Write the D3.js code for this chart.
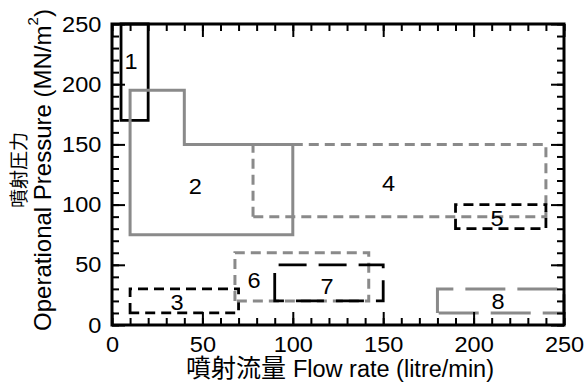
<!DOCTYPE html>
<html>
<head>
<meta charset="utf-8">
<script src="https://cdn.jsdelivr.net/npm/d3@7"></script>
<style>
  html, body { margin: 0; padding: 0; background: #fff; }
  svg text { font-family: "Liberation Sans", "Noto Sans CJK JP", Arial, sans-serif; fill: #000; }
</style>
</head>
<body>
<svg id="chart" width="585" height="383"></svg>
<script>
// Operating windows: flow rate (litre/min) vs operational pressure (MN/m^2)
const regionIds   = ["1", "2", "3", "4", "5", "6", "7", "8"];
// outline vertices of each region, [flow, pressure]
const regionShapes = [
  [[5, 170], [5, 250], [20, 250], [20, 170]],
  [[10, 75], [10, 195], [40, 195], [40, 150], [100, 150], [100, 75]],
  [[10, 10], [10, 30], [70, 30], [70, 10]],
  [[78, 90], [78, 150], [240, 150], [240, 90]],
  [[190, 80], [190, 100], [240, 100], [240, 80]],
  [[68, 20], [68, 60], [142, 60], [142, 20]],
  [[90, 20], [90, 50], [150, 50], [150, 20]],
  [[180, 10], [180, 30], [250, 30], [250, 10]]
];
// where each region number is written, [flow, pressure]
const regionLabelAt = [[10.5, 219], [46, 115], [36, 19], [153, 118], [213, 89], [78.5, 37], [119, 32], [213.5, 20]];
const regionColour  = ["black", "grey", "black", "grey", "black", "grey", "black", "grey"];
const regionDash    = ["solid", "solid", "short", "short", "short", "short", "long", "longer"];

const xTicks = [0, 50, 100, 150, 200, 250];
const yTicks = [0, 50, 100, 150, 200, 250];
const xDomain = [0, 250];
const yDomain = [0, 250];

const xTitleCJK = "噴射流量";
const xTitleLatin = "Flow rate (litre/min)";
const yTitleTop = "噴射圧力";
const yTitleMain = "Operational Pressure (MN/m";

const FONT = "Liberation Sans, Noto Sans CJK JP, Arial, sans-serif";
const WIDEN = 1.07;   // numerals are drawn slightly wide
const svg = d3.select("#chart");
const margin = { left: 112, right: 21, top: 24, bottom: 58 };
const W = 585, H = 383;
const x = d3.scaleLinear().domain(xDomain).range([margin.left, W - margin.right]);
const y = d3.scaleLinear().domain(yDomain).range([H - margin.bottom, margin.top]);

const colourMap = { black: "#000", grey: "#8a8a8a" };
const dashMap = { solid: null, short: "10,6", long: "28,12", longer: "40,12" };
const widthMap = { black: 2.8, grey: 3 };

// region outlines
const line = d3.line().x(d => x(d[0])).y(d => y(d[1]));
const g = svg.append("g");
regionShapes.forEach((pts, i) => {
  g.append("path")
    .attr("d", line(pts) + "Z")
    .attr("fill", "none")
    .attr("stroke", colourMap[regionColour[i]])
    .attr("stroke-width", widthMap[regionColour[i]])
    .attr("stroke-dasharray", dashMap[regionDash[i]])
    .attr("stroke-linejoin", "miter")
    .attr("stroke-linecap", "butt");
});
regionIds.forEach((id, i) => {
  g.append("text")
    .attr("transform", `translate(${x(regionLabelAt[i][0])},${y(regionLabelAt[i][1])}) scale(${WIDEN},1)`)
    .attr("text-anchor", "middle")
    .attr("dominant-baseline", "central")
    .attr("font-size", 22)
    .text(id);
});

// axes with inward ticks on all four sides
const minorX = d3.range(0, 251, 10);
const minorY = d3.range(0, 251, 10);
const tickStyle = sel => {
  sel.select(".domain").remove();
  sel.selectAll(".tick line").attr("stroke", "#000").attr("stroke-width", 2);
};
const fmt = d3.format("d");
const labelStyle = s => s.selectAll("text")
  .attr("font-size", 22).attr("font-family", FONT).attr("fill", "#000")
  .attr("transform", `scale(${WIDEN},1)`);

svg.append("g").attr("transform", `translate(0,${y(0)})`)
  .call(d3.axisBottom(x).tickValues(minorX).tickSize(-7).tickFormat(""))
  .call(tickStyle);
svg.append("g").attr("transform", `translate(0,${y(0)})`)
  .call(d3.axisBottom(x).tickValues(xTicks).tickSize(-13).tickPadding(11).tickFormat(fmt))
  .call(tickStyle)
  .call(labelStyle);

svg.append("g").attr("transform", `translate(0,${y(250)})`)
  .call(d3.axisTop(x).tickValues(minorX).tickSize(-7).tickFormat(""))
  .call(tickStyle);
svg.append("g").attr("transform", `translate(0,${y(250)})`)
  .call(d3.axisTop(x).tickValues(xTicks).tickSize(-13).tickFormat(""))
  .call(tickStyle);

svg.append("g").attr("transform", `translate(${x(0)},0)`)
  .call(d3.axisLeft(y).tickValues(minorY).tickSize(-7).tickFormat(""))
  .call(tickStyle);
svg.append("g").attr("transform", `translate(${x(0)},0)`)
  .call(d3.axisLeft(y).tickValues(yTicks).tickSize(-13).tickPadding(10).tickFormat(fmt))
  .call(tickStyle)
  .call(labelStyle);

svg.append("g").attr("transform", `translate(${x(250)},0)`)
  .call(d3.axisRight(y).tickValues(minorY).tickSize(-7).tickFormat(""))
  .call(tickStyle);
svg.append("g").attr("transform", `translate(${x(250)},0)`)
  .call(d3.axisRight(y).tickValues(yTicks).tickSize(-13).tickFormat(""))
  .call(tickStyle);

// frame
svg.append("rect")
  .attr("x", x(0)).attr("y", y(250))
  .attr("width", x(250) - x(0)).attr("height", y(0) - y(250))
  .attr("fill", "none").attr("stroke", "#000").attr("stroke-width", 3);

// axis titles
const xt = svg.append("text")
  .attr("transform", `translate(${(x(0) + x(250)) / 2 + 2},377)`)
  .attr("text-anchor", "middle");
xt.append("tspan").attr("font-size", 25).text(xTitleCJK + " ");
xt.append("tspan").attr("font-size", 23.5).text(xTitleLatin);

const yMid = 170;
svg.append("text")
  .attr("transform", `translate(19,${yMid}) rotate(-90)`)
  .attr("text-anchor", "middle").attr("dominant-baseline", "central")
  .attr("font-size", 19)
  .text(yTitleTop);
const yt = svg.append("text")
  .attr("transform", `translate(42,${yMid}) rotate(-90)`)
  .attr("text-anchor", "middle").attr("dominant-baseline", "central")
  .attr("font-size", 24);
yt.append("tspan").text(yTitleMain);
yt.append("tspan").attr("font-size", 15).attr("dy", -10).text("2");
yt.append("tspan").attr("dy", 10).text(")");
</script>
</body>
</html>
